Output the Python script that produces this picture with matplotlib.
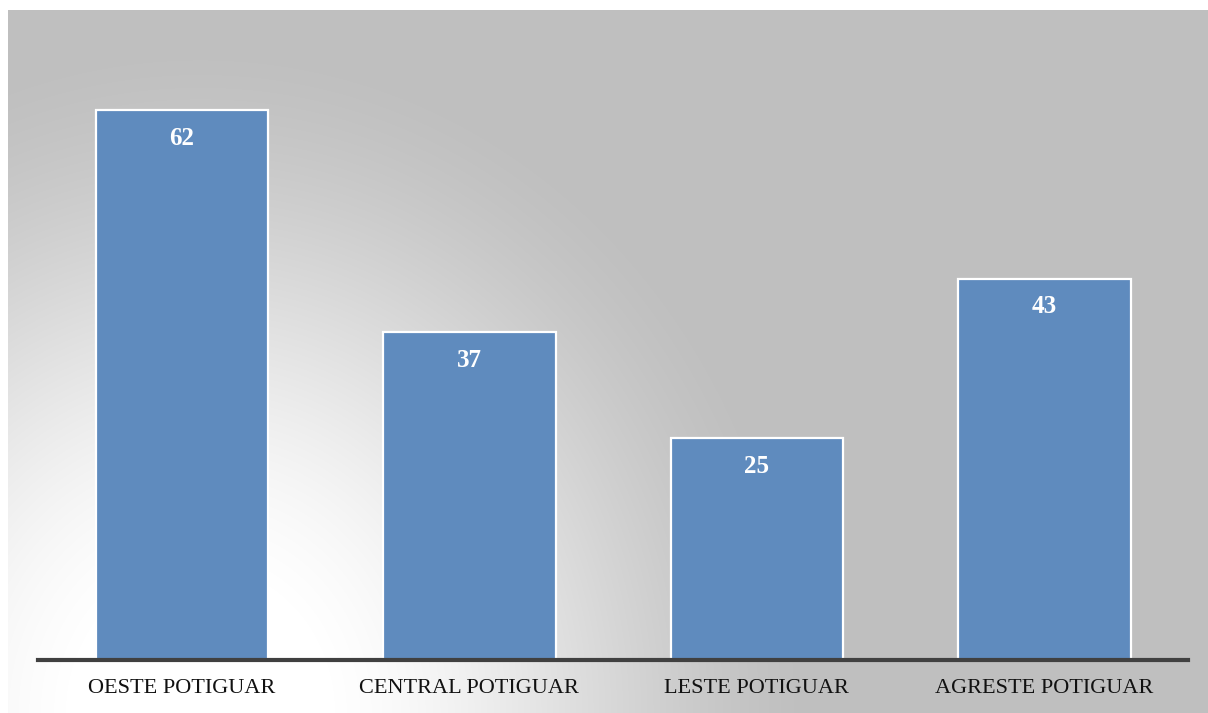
import numpy as np
import matplotlib
matplotlib.use('Agg')
import matplotlib.pyplot as plt
from matplotlib.colors import LinearSegmentedColormap

regioes = ['OESTE POTIGUAR', 'CENTRAL POTIGUAR', 'LESTE POTIGUAR', 'AGRESTE POTIGUAR']
valores = [62, 37, 25, 43]

W, H = 1208, 713
fig = plt.figure(figsize=(W / 100, H / 100), dpi=100)
fig.patch.set_facecolor('white')

# fundo cinza com clarão branco no canto inferior esquerdo
bg = fig.add_axes([8 / W, 0, 1 - 8 / W, 1 - 10 / H])
bg.set_axis_off()
yy, xx = np.mgrid[10:713, 8:1208]
d = np.sqrt((xx - 200) ** 2 + ((yy - 713) / 1.1) ** 2)
t = np.clip((d - 130) / 480, 0, 1)
t = t * t * (3 - 2 * t) * 0.6 + t * 0.4
cmap = LinearSegmentedColormap.from_list('bg', ['#ffffff', '#bfbfbf'])
bg.imshow(t, cmap=cmap, aspect='auto', extent=[0, 1, 0, 1], origin='upper', vmin=0, vmax=1)

ax = fig.add_axes([38 / W, (H - 660) / H, 1150 / W, 620 / H])
ax.patch.set_alpha(0)
x = np.arange(len(regioes))
bars = ax.bar(x, valores, width=0.6, color='#5f8bbe', edgecolor='white', linewidth=1.6, zorder=2)
ax.set_xlim(-0.5, 3.5)
ax.set_ylim(0, 620 / 8.87)

for b, v in zip(bars, valores):
    ax.text(b.get_x() + b.get_width() / 2, v - 3.2, str(v), ha='center', va='center',
            color='white', fontsize=18, fontweight='bold', family='Liberation Serif')

for s in ['top', 'right', 'left']:
    ax.spines[s].set_visible(False)
ax.spines['bottom'].set_color('#404040')
ax.spines['bottom'].set_linewidth(3)
ax.set_yticks([])
ax.set_xticks(x)
ax.set_xticklabels(regioes, family='Liberation Serif', fontsize=16, color='#111111')
ax.tick_params(axis='x', length=0, pad=14)

fig.savefig('out.png', dpi=100)
